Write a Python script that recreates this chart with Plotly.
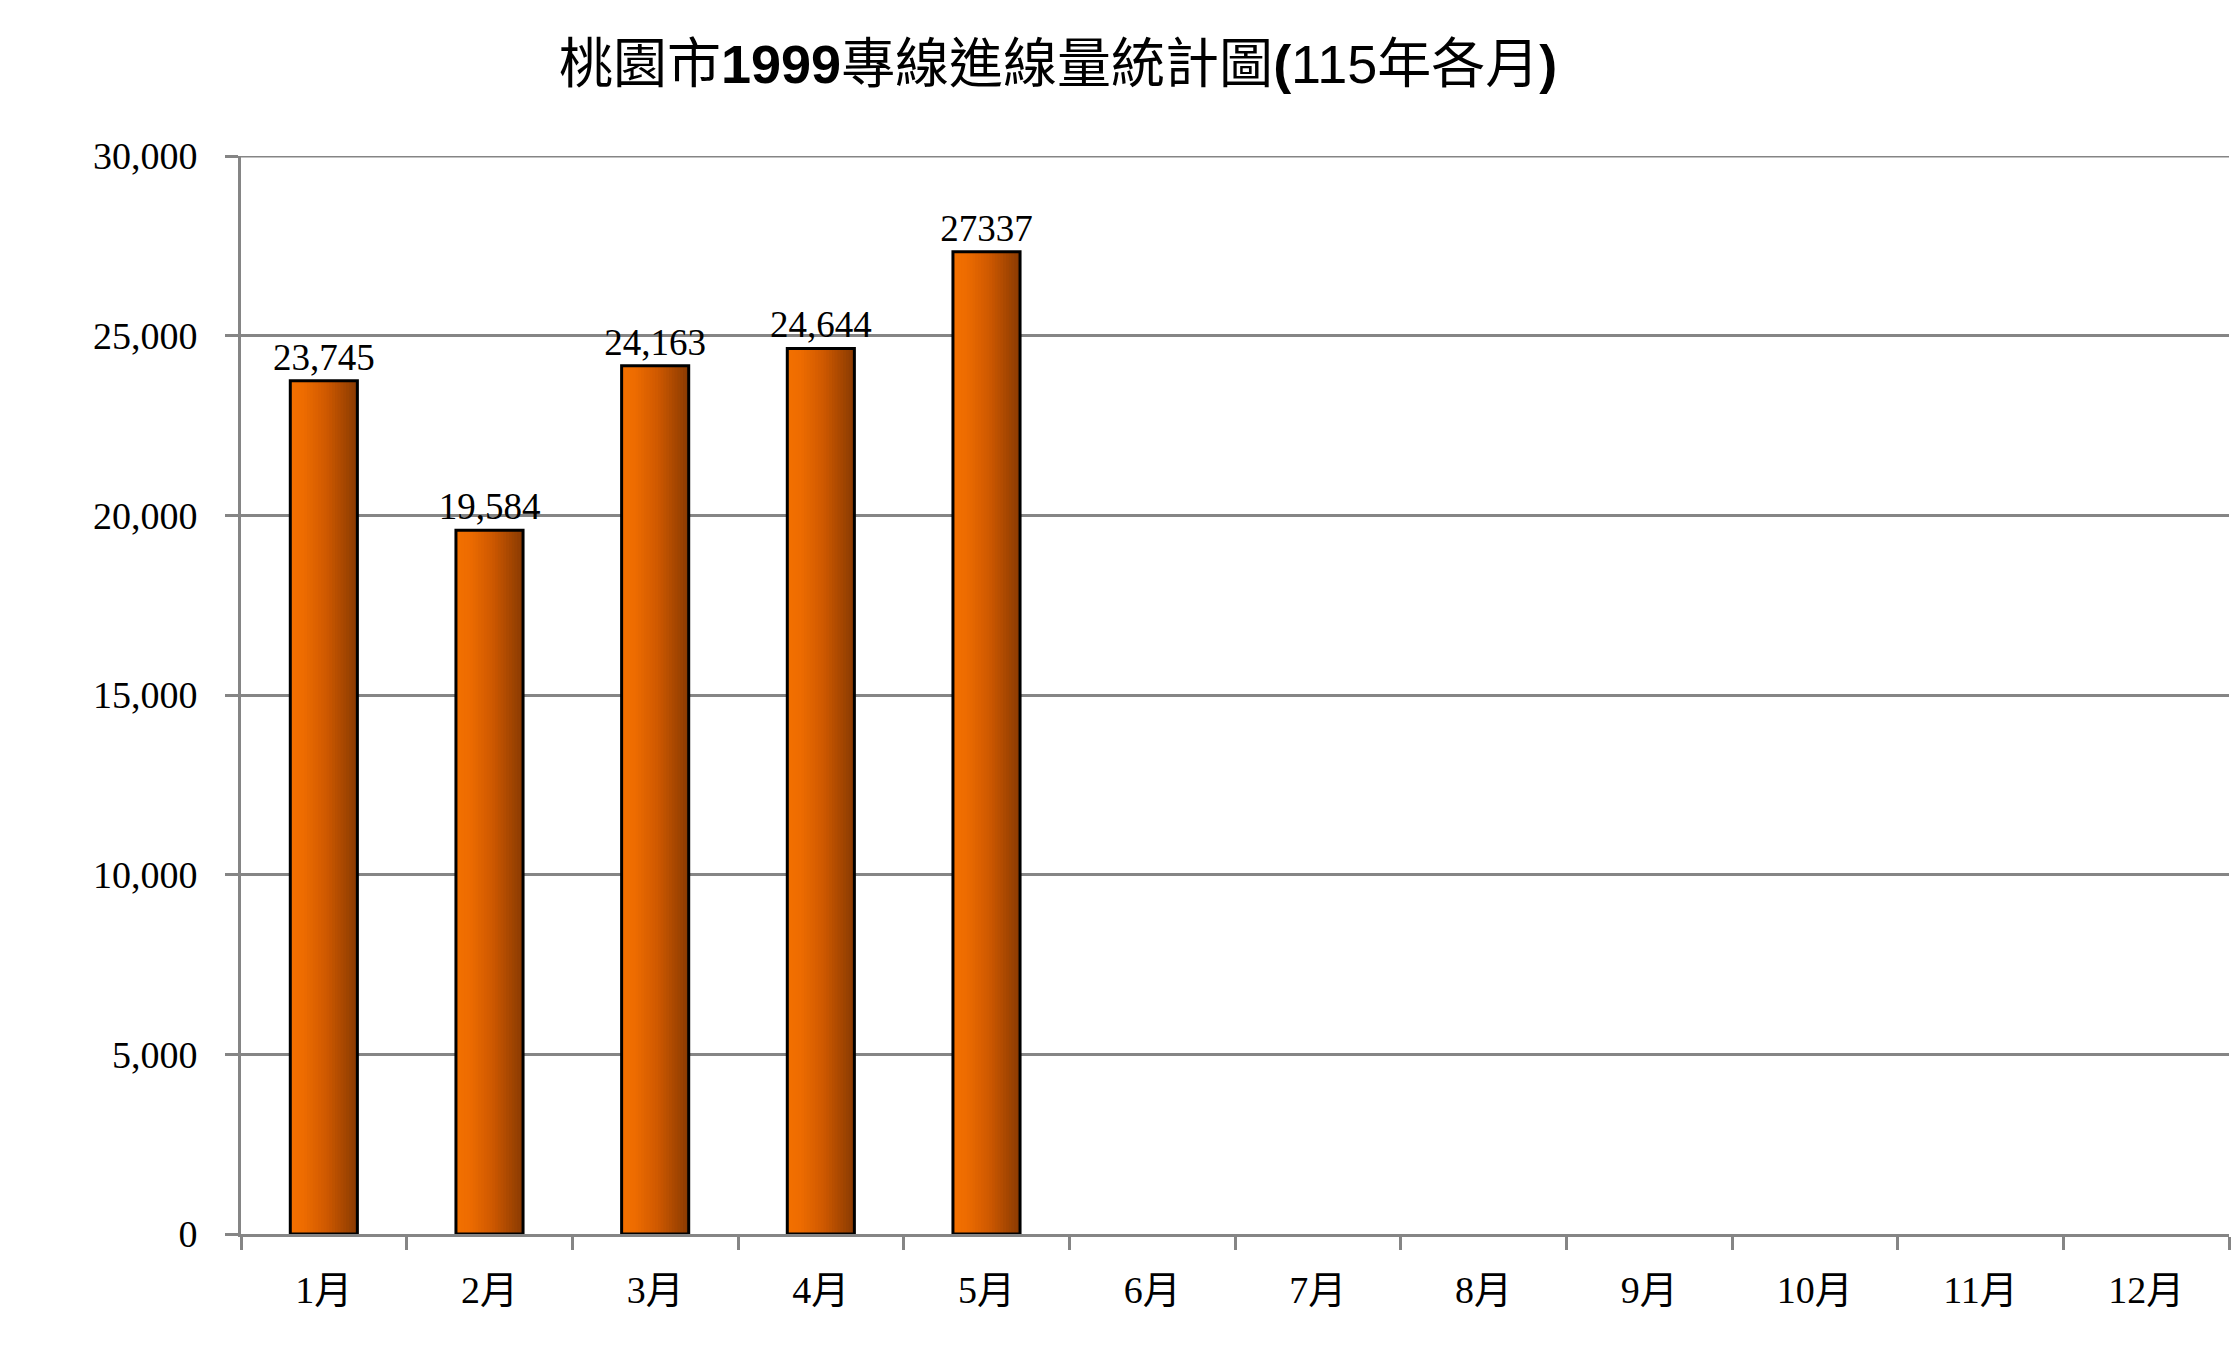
import plotly.graph_objects as go

months = ["1月", "2月", "3月", "4月", "5月", "6月", "7月", "8月", "9月", "10月", "11月", "12月"]
calls = [23745, 19584, 24163, 24644, 27337, None, None, None, None, None, None, None]
value_labels = ["23,745", "19,584", "24,163", "24,644", "27337", "", "", "", "", "", "", ""]
y_ticks = [0, 5000, 10000, 15000, 20000, 25000, 30000]
y_tick_labels = ["0", "5,000", "10,000", "15,000", "20,000", "25,000", "30,000"]

SERIF = "Liberation Serif, Noto Sans CJK TC, serif"
GRID = "#858585"
BAR_W = 0.405
N_SLICES = 24

def grad_color(t):
    stops = [(0.0, (242, 113, 0)), (0.2, (238, 108, 0)), (0.55, (205, 88, 0)), (1.0, (136, 58, 2))]
    for (t0, c0), (t1, c1) in zip(stops[:-1], stops[1:]):
        if t0 <= t <= t1:
            f = (t - t0) / (t1 - t0) if t1 > t0 else 0
            return "rgb(%d,%d,%d)" % tuple(round(a + (b - a) * f) for a, b in zip(c0, c1))
    return "rgb(%d,%d,%d)" % stops[-1][1]

fig = go.Figure()
step = BAR_W / N_SLICES
for i in range(N_SLICES):
    t = (i + 0.5) / N_SLICES
    fig.add_trace(go.Bar(
        x=months, y=calls,
        offset=-BAR_W / 2 + i * step, width=BAR_W - i * step,
        marker=dict(color=grad_color(t), line=dict(width=0)),
        showlegend=False, hoverinfo="skip",
    ))

fig.add_trace(go.Bar(
    x=months, y=calls,
    offset=-BAR_W / 2, width=BAR_W,
    marker=dict(color="rgba(0,0,0,0)", line=dict(color="black", width=3)),
    text=value_labels, textposition="outside", cliponaxis=False,
    constraintext="none",
    textfont=dict(family=SERIF, size=37, color="black"),
    showlegend=False,
))

# top gridline (plotly omits the gridline at the very edge of the range)
fig.add_shape(type="line", xref="paper", x0=0, x1=1, yref="y",
              y0=y_ticks[-1], y1=y_ticks[-1], line=dict(color=GRID, width=3), layer="below")

title_text = ("桃園市<span style=\"font-family:Liberation Sans\"><b>1999</b></span>專線進線量統計圖"
              "<span style=\"font-family:Liberation Sans\"><b>(</b></span>"
              "<span style=\"font-family:Liberation Sans Narrow, Liberation Sans\">115</span>年各月"
              "<span style=\"font-family:Liberation Sans\"><b>)</b></span>")

fig.update_layout(
    width=2237, height=1354,
    margin=dict(l=241, r=8, t=156, b=120),
    paper_bgcolor="white", plot_bgcolor="white",
    barmode="overlay",
    font=dict(family=SERIF, size=38, color="black"),
    title=dict(text=title_text, x=0.473, xanchor="center", y=0.953, yanchor="middle",
               font=dict(family="Noto Sans CJK TC, Liberation Sans", size=54, color="black")),
    xaxis=dict(
        type="category", categoryorder="array", categoryarray=months,
        range=[-0.5, 11.5],
        showline=True, linecolor=GRID, linewidth=3,
        ticks="outside", ticklen=13, tickwidth=3, tickcolor=GRID,
        tickson="boundaries", showgrid=False,
        tickfont=dict(family=SERIF, size=38, color="black"),
        ticklabelstandoff=20,
    ),
    yaxis=dict(
        range=[0, 30000], tickvals=y_ticks, ticktext=y_tick_labels,
        showline=True, linecolor=GRID, linewidth=3,
        ticks="outside", ticklen=13, tickwidth=3, tickcolor=GRID,
        showgrid=True, gridcolor=GRID, gridwidth=3,
        zeroline=False,
        tickfont=dict(family=SERIF, size=38, color="black"),
        ticklabelstandoff=20,
    ),
)

fig.write_html("out.html")
